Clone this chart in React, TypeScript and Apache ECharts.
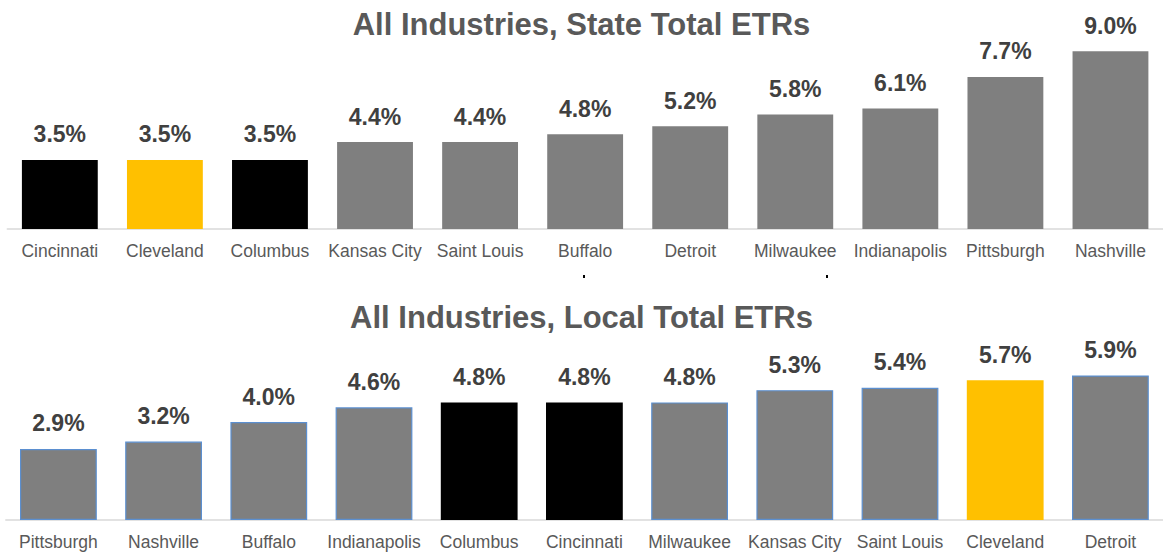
import React, { useEffect, useRef } from "react";
import * as echarts from "echarts";

const stateCities = ["Cincinnati", "Cleveland", "Columbus", "Kansas City", "Saint Louis", "Buffalo", "Detroit", "Milwaukee", "Indianapolis", "Pittsburgh", "Nashville"];
const stateValues = [3.5, 3.5, 3.5, 4.4, 4.4, 4.8, 5.2, 5.8, 6.1, 7.7, 9.0];

const localCities = ["Pittsburgh", "Nashville", "Buffalo", "Indianapolis", "Columbus", "Cincinnati", "Milwaukee", "Kansas City", "Saint Louis", "Cleveland", "Detroit"];
const localValues = [2.9, 3.2, 4.0, 4.6, 4.8, 4.8, 4.8, 5.3, 5.4, 5.7, 5.9];

const titles = ["All Industries, State Total ETRs", "All Industries, Local Total ETRs"];

const GRAY = "#7f7f7f";
const BLACK = "#000000";
const YELLOW = "#ffc000";
const highlight: Record<string, string> = { Cincinnati: BLACK, Columbus: BLACK, Cleveland: YELLOW };

const FONT = "'Liberation Sans', Arial, sans-serif";

export default function App() {
  const ref = useRef<HTMLDivElement>(null);
  useEffect(() => {
    if (!ref.current) return;
    const chart = echarts.init(ref.current, null, { renderer: "svg" });
    const mkData = (cities: string[], vals: number[], border: boolean) =>
      vals.map((v, i) => {
        const c = highlight[cities[i]] || GRAY;
        return {
          value: v,
          itemStyle: {
            color: c,
            borderColor: border && c === GRAY ? "#5b8fd0" : c,
            borderWidth: border && c === GRAY ? 1.2 : 0,
          },
        };
      });
    const label = {
      show: true,
      position: "top" as const,
      distance: 14,
      formatter: (p: any) => p.value.toFixed(1) + "%",
      fontFamily: FONT,
      fontWeight: "bold" as const,
      fontSize: 23,
      color: "#404040",
    };
    const xAxisCommon = {
      type: "category" as const,
      axisTick: { show: false },
      axisLine: { lineStyle: { color: "#d9d9d9", width: 1.5 } },
      axisLabel: { fontFamily: FONT, fontSize: 17.5, color: "#595959", margin: 13, interval: 0 },
    };
    const yAxisCommon = { type: "value" as const, min: 0, show: false, splitLine: { show: false } };
    chart.setOption({
      animation: false,
      backgroundColor: "#ffffff",
      title: [
        { text: titles[0], left: "center", top: 4, textStyle: { fontFamily: FONT, fontWeight: "bold", fontSize: 31, color: "#595959" } },
        { text: titles[1], left: "center", top: 297, textStyle: { fontFamily: FONT, fontWeight: "bold", fontSize: 31, color: "#595959" } },
      ],
      grid: [
        { left: 7.3, width: 1159.4, top: 31.5, height: 197.5 },
        { left: 5.8, width: 1159.9, top: 348.5, height: 171.5 },
      ],
      xAxis: [
        { ...xAxisCommon, gridIndex: 0, data: stateCities },
        { ...xAxisCommon, gridIndex: 1, data: localCities },
      ],
      yAxis: [
        { ...yAxisCommon, gridIndex: 0, max: 10 },
        { ...yAxisCommon, gridIndex: 1, max: 7 },
      ],
      series: [
        { type: "bar", xAxisIndex: 0, yAxisIndex: 0, barCategoryGap: "27.8%", data: mkData(stateCities, stateValues, false), label },
        { type: "bar", xAxisIndex: 1, yAxisIndex: 1, barCategoryGap: "27%", data: mkData(localCities, localValues, true), label },
      ],
      graphic: [
        { type: "rect", left: 583, top: 275, shape: { width: 2, height: 3 }, style: { fill: "#000" } },
        { type: "rect", left: 826, top: 275, shape: { width: 2, height: 3 }, style: { fill: "#000" } },
      ],
    });
    return () => chart.dispose();
  }, []);
  return <div ref={ref} style={{ position: "fixed", left: 0, top: 0, width: 1163, height: 555 }} />;
}
